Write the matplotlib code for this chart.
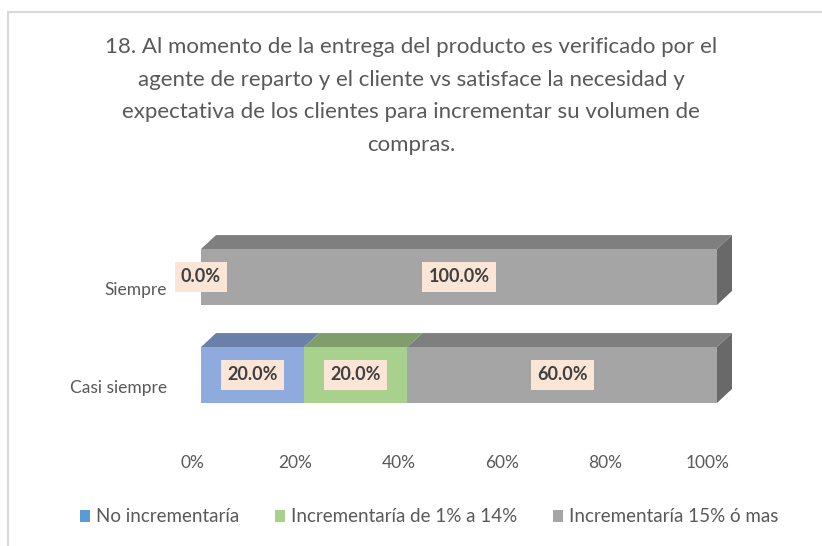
import numpy as np
import matplotlib.pyplot as plt
from matplotlib.patches import Polygon, Rectangle
from matplotlib.transforms import ScaledTranslation

plt.rcParams['font.family'] = ['Lato', 'DejaVu Sans']

categories = ["Casi siempre", "Siempre"]
series_names = ["No incrementaría", "Incrementaría de 1% a 14%", "Incrementaría 15% ó mas"]
no_inc = [20.0, 0.0]
inc_1_14 = [20.0, 0.0]
inc_15 = [60.0, 100.0]
xticks = [0, 20, 40, 60, 80, 100]
title = ("18. Al momento de la entrega del producto es verificado por el\n"
         "agente de reparto y el cliente vs satisface la necesidad y\n"
         "expectativa de los clientes para incrementar su volumen de\n"
         "compras.")

front = ["#8FAADC", "#A9D18E", "#A5A5A5"]
top = ["#6A80A8", "#7F9E6B", "#7F7F7F"]
side = ["#52637F", "#62794F", "#696969"]
legend_col = ["#5B9BD5", "#A9D18E", "#A5A5A5"]
txt = "#595959"

W, H = 822, 546
fig = plt.figure(figsize=(W / 100, H / 100), dpi=100)
fig.patches.append(Rectangle((8 / W, -0.1), 1.2, 1 - 12 / H + 0.1, transform=fig.transFigure,
                             fill=False, edgecolor="#D9D9D9", linewidth=1.5))

ax = fig.add_axes([201 / W, (H - 424) / H, 516 / W, 196 / H])
ax.set_xlim(0, 100)
ax.set_ylim(-0.5, 1.5)

bh = 0.57
dx = 15 / 516 * 100
dy = 14 / 98

y = np.arange(len(categories))
data = [no_inc, inc_1_14, inc_15]
left = np.zeros(len(categories))
for k, vals in enumerate(data):
    vals = np.array(vals)
    ax.barh(y, vals, left=left, height=bh, color=front[k], zorder=2)
    for i in range(len(y)):
        if vals[i] <= 0:
            continue
        x0, x1 = left[i], left[i] + vals[i]
        yt = y[i] + bh / 2
        ax.add_patch(Polygon([(x0, yt), (x1, yt), (x1 + dx, yt + dy), (x0 + dx, yt + dy)],
                             closed=True, facecolor=top[k], edgecolor="none", zorder=1,
                             clip_on=False))
        if abs(x1 - 100) < 1e-6:
            yb = y[i] - bh / 2
            ax.add_patch(Polygon([(x1, yb), (x1 + dx, yb + dy), (x1 + dx, yt + dy), (x1, yt)],
                                 closed=True, facecolor=side[k], edgecolor="none", zorder=1,
                                 clip_on=False))
    left = left + vals

# data labels
left = np.zeros(len(categories))
for k, vals in enumerate(data):
    for i in range(len(y)):
        v = vals[i]
        if k == 1 and v == 0:
            continue
        ax.text(left[i] + v / 2, y[i], f"{v:.1f}%", ha="center", va="center",
                fontsize=13, fontweight="bold", color="#404040", zorder=5,
                bbox=dict(boxstyle="square,pad=0.35", facecolor="#FBE5D6", edgecolor="none"))
    left = left + np.array(vals)

for s in ax.spines.values():
    s.set_visible(False)
ax.tick_params(length=0)
ax.set_xticks(xticks)
ax.set_xticklabels([f"{t}%" for t in xticks], fontsize=12.5, color=txt)
ax.set_yticks(y)
ax.set_yticklabels(categories, fontsize=12.5, color=txt)
for lab in ax.get_xticklabels():
    lab.set_transform(lab.get_transform() + ScaledTranslation(-0.09, -0.26, fig.dpi_scale_trans))
for lab in ax.get_yticklabels():
    lab.set_transform(lab.get_transform() + ScaledTranslation(-0.29, -0.12, fig.dpi_scale_trans))

fig.text(411 / W, 1 - 96 / H, title, ha="center", va="center", fontsize=16,
         color=txt, linespacing=1.78)

handles = [Rectangle((0, 0), 1, 1, facecolor=c) for c in legend_col]
fig.legend(handles, series_names, loc="center", bbox_to_anchor=(429 / W, 1 - 517 / H),
           ncol=3, frameon=False, fontsize=13.5, labelcolor=txt, handlelength=0.55,
           handleheight=0.55, handletextpad=0.3, columnspacing=1.9)

fig.savefig("out.png", dpi=100)
